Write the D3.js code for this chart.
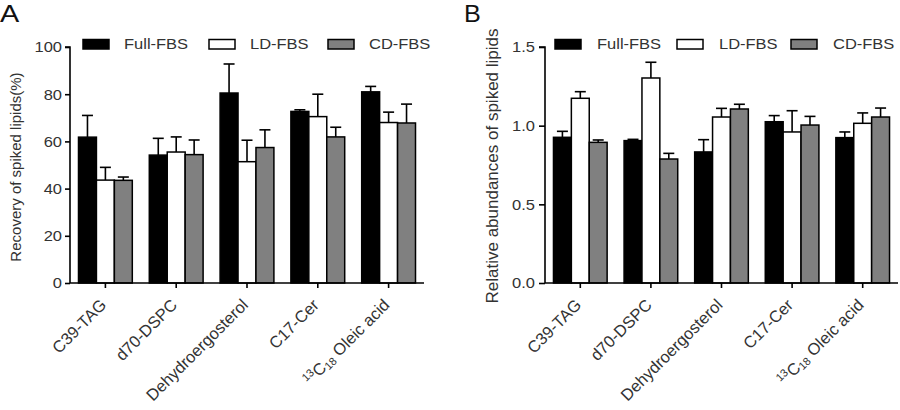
<!DOCTYPE html>
<html><head><meta charset="utf-8">
<script src="https://cdn.jsdelivr.net/npm/d3@7"></script>
<style>body{margin:0;background:#fff}svg{display:block;font-family:"Liberation Sans",Arial,sans-serif}</style>
</head><body><svg id="c" width="900" height="410"></svg>
<script>
const categories = ["C39-TAG","d70-DSPC","Dehydroergosterol","C17-Cer","OLEIC"];
const seriesNames = ["Full-FBS","LD-FBS","CD-FBS"];
const seriesColors = ["#000000","#ffffff","#808080"];
// Panel A: recovery (%)
const recFull = [61.8,54.2,80.5,72.7,81.0];
const recFullErr = [9.2,7.1,12.3,0.7,2.3];
const recLD = [43.6,55.5,51.4,70.5,68.0];
const recLDErr = [5.4,6.4,9.1,9.5,4.4];
const recCD = [43.5,54.4,57.4,61.9,67.8];
const recCDErr = [1.4,6.2,7.5,4.1,8.0];
const recTicks = [0,20,40,60,80,100];
// Panel B: relative abundance
const relFull = [0.926,0.905,0.833,1.025,0.924];
const relFullErr = [0.038,0.008,0.078,0.039,0.036];
const relLD = [1.174,1.303,1.055,0.960,1.015];
const relLDErr = [0.042,0.100,0.055,0.135,0.066];
const relCD = [0.894,0.788,1.106,1.004,1.055];
const relCDErr = [0.015,0.036,0.030,0.055,0.057];
const relTicks = [0,0.5,1.0,1.5];

const svg = d3.select("#c");
const SX = 1.1; // horizontal stretch of horizontal text

function panel(o){
  const g = svg.append("g");
  const x = d3.scaleBand().domain(categories).range([o.x0,o.x1]).paddingInner(0.24).paddingOuter(0.12);
  const xs = d3.scaleBand().domain(seriesNames).range([0,x.bandwidth()]);
  const y = d3.scaleLinear().domain(o.domain).range([o.yb,o.yt]);
  const vals = [o.full,o.ld,o.cd], errs=[o.fullErr,o.ldErr,o.cdErr];
  const data=[];
  categories.forEach((c,i)=>seriesNames.forEach((s,j)=>data.push({c,s,j,v:vals[j][i],e:errs[j][i]})));
  // error bars
  const eg = g.append("g").attr("stroke","#000").attr("stroke-width",1.6);
  data.forEach(d=>{
    const cx = x(d.c)+xs(d.s)+xs.bandwidth()/2;
    eg.append("line").attr("x1",cx).attr("x2",cx).attr("y1",y(d.v)).attr("y2",y(d.v+d.e));
    eg.append("line").attr("x1",cx-5.5).attr("x2",cx+5.5).attr("y1",y(d.v+d.e)).attr("y2",y(d.v+d.e));
  });
  g.append("g").selectAll("rect").data(data).join("rect")
    .attr("x",d=>x(d.c)+xs(d.s)).attr("width",xs.bandwidth())
    .attr("y",d=>y(d.v)).attr("height",d=>y(o.domain[0])-y(d.v))
    .attr("fill",d=>seriesColors[d.j]).attr("stroke","#000").attr("stroke-width",1.5);
  // y axis
  const ya = g.append("g").attr("transform",`translate(${o.x0},0)`)
    .call(d3.axisLeft(y).tickValues(o.ticks).tickFormat(o.fmt).tickSize(o.tk).tickPadding(o.tp));
  ya.select(".domain").attr("stroke-width",1.6).attr("d",`M-${o.tk},${o.yt}H0V${o.yb}`);
  ya.selectAll(".tick line").attr("stroke-width",1.6);
  ya.selectAll("text").attr("font-size",15).attr("fill","#333")
    .attr("font-family","Liberation Sans, Arial, sans-serif")
    .attr("x",-(o.tk+o.tp)/SX).attr("transform",`scale(${SX},1)`);
  // x axis
  const xa = g.append("g").attr("transform",`translate(0,${o.yb})`)
    .call(d3.axisBottom(x).tickSize(5).tickFormat(""));
  xa.select(".domain").attr("stroke-width",1.6).attr("d",`M${o.x0},0H${o.x1}`);
  xa.selectAll(".tick line").attr("stroke-width",1.6);
  // x labels
  categories.forEach(c=>{
    const t = g.append("text").attr("font-size",16.5).attr("fill","#333").attr("text-anchor","end")
      .attr("transform",`translate(${x(c)+x.bandwidth()/2+2},${o.yb+23}) rotate(-45)`);
    if(c==="OLEIC"){
      t.append("tspan").attr("font-size",11).attr("dy",-6).text("13");
      t.append("tspan").attr("dy",6).text("C");
      t.append("tspan").attr("font-size",11).attr("dy",2).text("18");
      t.append("tspan").attr("dy",-2).text(" Oleic acid");
    } else t.text(c);
  });
  // y title
  g.append("text").attr("font-size",o.tfs).attr("fill","#333").attr("text-anchor","middle")
    .attr("transform",`translate(${o.tx},${o.ty}) rotate(-90)`).text(o.title);
  // panel letter
  g.append("text").attr("font-size",24).attr("fill","#111")
    .attr("transform",`translate(${o.lx},22) scale(${o.lsx},1)`).text(o.letter);
  // legend
  seriesNames.forEach((s,j)=>{
    g.append("rect").attr("x",o.legX[j]).attr("y",39.5).attr("width",26).attr("height",9.5)
      .attr("fill",seriesColors[j]).attr("stroke","#000").attr("stroke-width",1.5);
    g.append("text").attr("font-size",15).attr("fill","#333")
      .attr("transform",`translate(${o.legX[j]+o.lgap},49) scale(${SX},1)`).text(s);
  });
}

panel({x0:70,x1:424,yb:283,yt:47,domain:[0,100],ticks:recTicks,fmt:d3.format("d"),tk:5,tp:3,
  full:recFull,fullErr:recFullErr,ld:recLD,ldErr:recLDErr,cd:recCD,cdErr:recCDErr,
  title:"Recovery of spiked lipids(%)",tfs:15,tx:21,ty:167,letter:"A",lx:0,lsx:1.2,legX:[83,209,328],lgap:41});
panel({x0:545,x1:898,yb:283,yt:47,domain:[0,1.5],ticks:relTicks,fmt:d3.format(".1f"),tk:6,tp:4,
  full:relFull,fullErr:relFullErr,ld:relLD,ldErr:relLDErr,cd:relCD,cdErr:relCDErr,
  title:"Relative abundances of spiked lipids",tfs:17,tx:498,ty:166,letter:"B",lx:464,lsx:1.05,legX:[555,677,791],lgap:42});
</script></body></html>
